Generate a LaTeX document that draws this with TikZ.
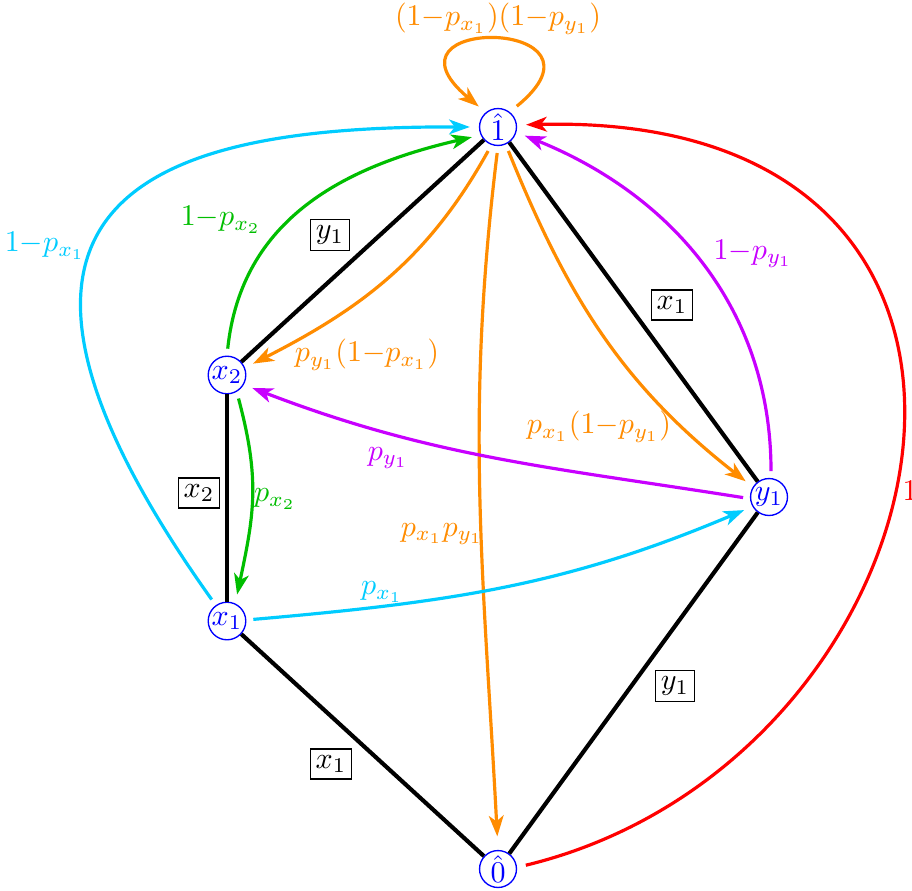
\documentclass[tikz,border=0pt]{standalone}
\usetikzlibrary{arrows.meta}
\definecolor{cyanA}{RGB}{0,204,255}
\definecolor{greenA}{RGB}{0,190,0}
\definecolor{orangeA}{RGB}{255,140,0}
\definecolor{purpleA}{RGB}{200,0,255}
\definecolor{redA}{RGB}{255,0,0}
\begin{document}
\begin{tikzpicture}[x=0.0117cm,y=0.0117cm,
  vert/.style={circle,draw=blue,text=blue,line width=0.45pt,inner sep=0.3pt,minimum size=12.3pt},
  edgeb/.style={line width=1.38pt,black},
  arr/.style={line width=1.06pt,-{Stealth[length=6.9pt,width=4.9pt,inset=1.9pt]},shorten >=3pt,shorten <=2.3pt},
  bx/.style={draw,line width=0.45pt,inner xsep=1.8pt,inner ysep=2.1pt},
  lab/.style={inner sep=0pt}]
\fill[white] (0,0) rectangle (912,890);
\useasboundingbox (0,0) rectangle (912,890);
% vertices
\node[vert] (t)  at (498,763) {$\hat 1$};
\node[vert] (x2) at (227,515) {$x_2$};
\node[vert] (y1) at (769,393) {$y_1$};
\node[vert] (x1) at (227,269) {$x_1$};
\node[vert] (b)  at (498,21)  {$\hat 0$};
% black edges
\draw[edgeb] (t) -- (x2);
\draw[edgeb] (t) -- (y1);
\draw[edgeb] (x2) -- (x1);
\draw[edgeb] (x1) -- (b);
\draw[edgeb] (y1) -- (b);
% boxed labels
\node[bx] (by1a) at (330,655) {$y_1$};
\node[bx] (bx1a) at (672,585) {$x_1$};
\node[bx] (bx2)  at (199,397) {$x_2$};
\node[bx] (by1b) at (675,204) {$y_1$};
\node[bx] (bx1b) at (331,126) {$x_1$};
% orange
\draw[arr,orangeA,shorten <=3pt,shorten >=3pt] (t.52) .. controls (625,872) and (368,876) .. (t.130);
\draw[arr,orangeA] (t.-110) to[out=-119,in=27] (x2.22);
\draw[arr,orangeA] (t.-66) to[out=-68,in=142] (y1.148);
\draw[arr,orangeA,shorten >=4.5pt] (t.-90) to[out=-97,in=93] (b.90);
% cyan
\draw[arr,cyanA] (x1) .. controls (-80,700) and (165,764) .. (t.180);
\draw[arr,cyanA] (x1.3) to[out=5,in=203] (y1.210);
% green
\draw[arr,greenA] (x2.90) to[out=84,in=193,looseness=1.05] (t.205);
\draw[arr,greenA] (x2.-60) to[out=-75,in=78,looseness=1.1] (x1.65);
% purple
\draw[arr,purpleA] (y1.84) to[out=90,in=-22] (t.-16);
\draw[arr,purpleA] (y1.185) to[out=171,in=-21] (x2.-30);
% red
\draw[arr,redA,shorten <=3pt] (b.5) .. controls (960,130) and (1092,780) .. (t.6);
% edge labels
\node[lab,text=orangeA] (lloop) at (498,871) {$(1{-}p_{x_1})(1{-}p_{y_1})$};
\node[lab,text=cyanA] (lc1) at (45,644) {$1{-}p_{x_1}$};
\node[lab,text=greenA] (lg1) at (221,670) {$1{-}p_{x_2}$};
\node[lab,text=orangeA] (lo1) at (367,535) {$p_{y_1}(1{-}p_{x_1})$};
\node[lab,text=purpleA] (lp1) at (753,636) {$1{-}p_{y_1}$};
\node[lab,text=orangeA] (lo2) at (599,463) {$p_{x_1}(1{-}p_{y_1})$};
\node[lab,text=purpleA] (lp2) at (388,432) {$p_{y_1}$};
\node[lab,text=greenA] (lg2) at (275,391) {$p_{x_2}$};
\node[lab,text=orangeA] (lo3) at (442,356) {$p_{x_1}p_{y_1}$};
\node[lab,text=cyanA] (lc2) at (382,298) {$p_{x_1}$};
\node[lab,text=redA] (lr) at (910,399) {$1$};
\end{tikzpicture}
\end{document}
